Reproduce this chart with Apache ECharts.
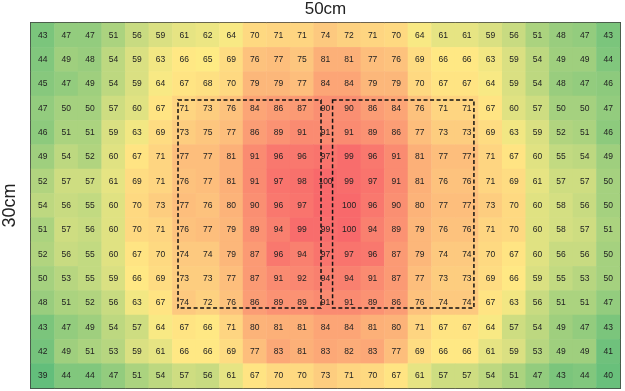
<!DOCTYPE html>
<html>
<head>
<meta charset="utf-8">
<script src="https://cdn.jsdelivr.net/npm/echarts@6/dist/echarts.min.js"></script>
<style>
  html, body { margin: 0; padding: 0; background: #fff; }
  #chart { width: 625px; height: 391px; }
</style>
</head>
<body>
<div id="chart"></div>
<script>
// pressure map, 15 rows x 25 columns, row 0 at the top
const rows = [
  [43, 47, 47, 51, 56, 59, 61, 62, 64, 70, 71, 71, 74, 72, 71, 70, 64, 61, 61, 59, 56, 51, 48, 47, 43],
  [44, 49, 48, 54, 59, 63, 66, 65, 69, 76, 77, 75, 81, 81, 77, 76, 69, 66, 66, 63, 59, 54, 49, 49, 44],
  [45, 47, 49, 54, 59, 64, 67, 68, 70, 79, 79, 77, 84, 84, 79, 79, 70, 67, 67, 64, 59, 54, 48, 47, 46],
  [47, 50, 50, 57, 60, 67, 71, 73, 76, 84, 86, 87, 90, 90, 86, 84, 76, 71, 71, 67, 60, 57, 50, 50, 47],
  [46, 51, 51, 59, 63, 69, 73, 75, 77, 86, 89, 91, 91, 91, 89, 86, 77, 73, 73, 69, 63, 59, 52, 51, 46],
  [49, 54, 52, 60, 67, 71, 77, 77, 81, 91, 96, 96, 97, 99, 96, 91, 81, 77, 77, 71, 67, 60, 55, 54, 49],
  [52, 57, 57, 61, 69, 71, 76, 77, 81, 91, 97, 98, 100, 99, 97, 91, 81, 76, 76, 71, 69, 61, 57, 57, 50],
  [54, 56, 55, 60, 70, 73, 77, 76, 80, 90, 96, 97, 100, 100, 96, 90, 80, 77, 77, 73, 70, 60, 58, 56, 50],
  [51, 57, 56, 60, 70, 71, 76, 77, 79, 89, 94, 99, 99, 100, 94, 89, 79, 76, 76, 71, 70, 60, 58, 57, 51],
  [52, 56, 55, 60, 67, 70, 74, 74, 79, 87, 96, 94, 97, 97, 96, 87, 79, 74, 74, 70, 67, 60, 56, 56, 50],
  [50, 53, 55, 59, 66, 69, 73, 73, 77, 87, 91, 92, 94, 94, 91, 87, 77, 73, 73, 69, 66, 59, 55, 53, 50],
  [48, 51, 52, 56, 63, 67, 74, 72, 76, 86, 89, 89, 91, 91, 89, 86, 76, 74, 74, 67, 63, 56, 51, 51, 47],
  [43, 47, 49, 54, 57, 64, 67, 66, 71, 80, 81, 81, 84, 84, 81, 80, 71, 67, 67, 64, 57, 54, 49, 47, 43],
  [42, 49, 51, 53, 59, 61, 66, 66, 69, 77, 83, 81, 83, 82, 83, 77, 69, 66, 66, 61, 59, 53, 49, 49, 41],
  [39, 44, 44, 47, 51, 54, 57, 56, 61, 67, 70, 70, 73, 71, 70, 67, 61, 57, 57, 54, 51, 47, 43, 44, 40]
];
// cells whose number is not printed in the original
const hiddenLabels = [[12, 7]];
// dashed regions in cell units: [left, right, top, bottom]
const boxes = [
  [6.24, 12.31, 3.16, 11.71],
  [12.8, 18.8, 3.16, 11.71]
];
const colNames = rows[0].map((v, i) => String(i));
const rowNames = rows.map((r, i) => String(i));

const cells = [];
rows.forEach((r, y) => {
  r.forEach((v, x) => {
    const hide = hiddenLabels.some(h => h[0] === x && h[1] === y);
    const item = { value: [x, y, v] };
    if (hide) item.label = { show: false };
    cells.push(item);
  });
});

const chart = echarts.init(document.getElementById('chart'));
const borderLine = { show: true, lineStyle: { color: '#3c3c3c', width: 2 } };

chart.setOption({
  animation: false,
  grid: { left: 31, right: 5, top: 23, bottom: 3, outerBoundsMode: 'none' },
  xAxis: [
    { type: 'category', data: colNames, axisLine: borderLine, axisTick: { show: false },
      axisLabel: { show: false }, splitLine: { show: false } },
    { type: 'category', data: colNames, position: 'top', axisLine: borderLine, axisTick: { show: false },
      axisLabel: { show: false }, splitLine: { show: false },
      name: '50cm', nameLocation: 'middle', nameGap: 5,
      nameTextStyle: { fontSize: 17, color: '#222', fontFamily: 'Liberation Sans' } }
  ],
  yAxis: [
    { type: 'category', data: rowNames, inverse: true, axisLine: borderLine, axisTick: { show: false },
      axisLabel: { show: false }, splitLine: { show: false },
      name: '30cm', nameLocation: 'middle', nameGap: 12,
      nameTextStyle: { fontSize: 18, color: '#222', fontFamily: 'Liberation Sans' } },
    { type: 'category', data: rowNames, inverse: true, position: 'right', axisLine: borderLine,
      axisTick: { show: false }, axisLabel: { show: false }, splitLine: { show: false } }
  ],
  visualMap: {
    show: false,
    min: 39,
    max: 100,
    dimension: 2,
    seriesIndex: 0,
    inRange: {
      color: ['#63BE7B', '#97CD7E', '#CBDC81', '#FFEB84', '#FDCA7F', '#FCAA77', '#FA8A71', '#F8696B']
    }
  },
  series: [
    {
      type: 'heatmap',
      data: cells,
      label: {
        show: true,
        fontSize: 8.5,
        color: '#222',
        fontFamily: 'Liberation Sans',
        formatter: p => p.value[2]
      },
      itemStyle: { borderWidth: 0 }
    },
    {
      type: 'custom',
      data: boxes,
      z: 10,
      silent: true,
      clip: false,
      renderItem: (params, api) => {
        const p0 = api.coord([0, 0]);
        const p1 = api.coord([1, 1]);
        const dx = p1[0] - p0[0];
        const dy = p1[1] - p0[1];
        const x0 = p0[0] + (api.value(0) - 0.5) * dx;
        const x1 = p0[0] + (api.value(1) - 0.5) * dx;
        const y0 = p0[1] + (api.value(2) - 0.5) * dy;
        const y1 = p0[1] + (api.value(3) - 0.5) * dy;
        return {
          type: 'rect',
          shape: { x: x0, y: y0, width: x1 - x0, height: y1 - y0 },
          style: { fill: 'none', stroke: '#111', lineWidth: 1.5, lineDash: [4, 2.5] }
        };
      }
    }
  ]
});
</script>
</body>
</html>
